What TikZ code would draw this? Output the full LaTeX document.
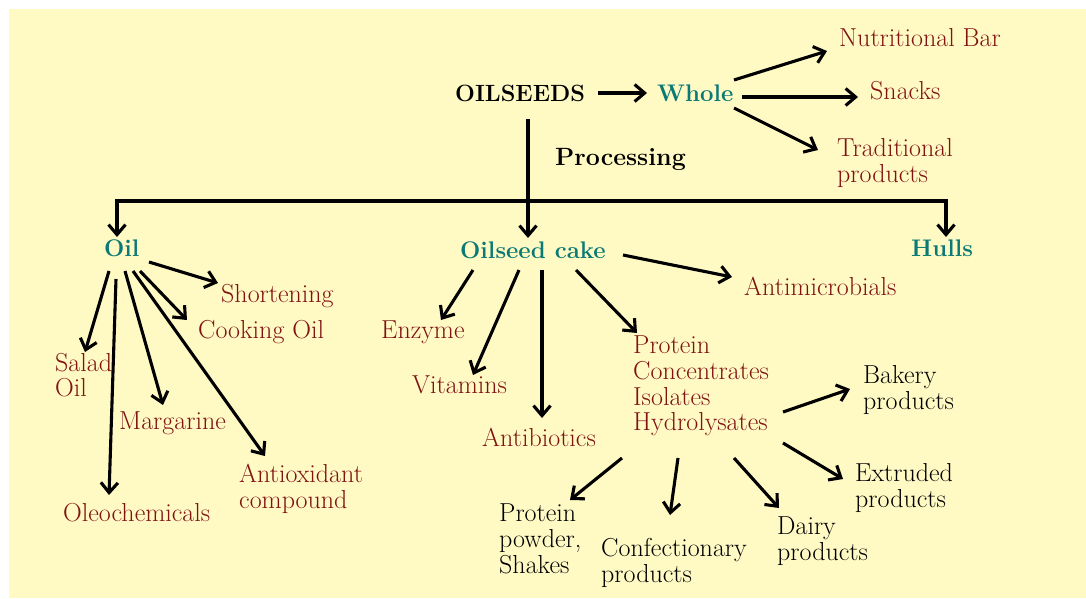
\documentclass[tikz,border=0pt]{standalone}
\usetikzlibrary{arrows.meta}
\definecolor{bgyellow}{RGB}{255,249,196}
\definecolor{txtred}{RGB}{128,18,18}
\definecolor{txtteal}{RGB}{10,122,118}
\tikzset{
  arr/.style={line width=3.1pt,-{Straight Barb[length=10pt,width=17pt]}},
  lbl/.style={anchor=west,inner sep=0pt,align=left,font=\rmfamily\fontsize{26}{25.7}\selectfont},
  redlbl/.style={lbl,text=txtred},
  blklbl/.style={lbl,text=black},
  teallbl/.style={lbl,text=txtteal,font=\rmfamily\fontsize{24}{26}\selectfont\bfseries},
  boldlbl/.style={lbl,text=black,font=\rmfamily\fontsize{24}{26}\selectfont\bfseries}
}
\begin{document}
\begin{tikzpicture}[x=1pt,y=-1pt]
\fill[white] (0,0) rectangle (1086,598);
\fill[bgyellow] (9,9) rectangle (1086,598);
\useasboundingbox (0,0) rectangle (1086,598);

% nodes
\node[boldlbl,font=\rmfamily\fontsize{23.5}{26}\selectfont\bfseries] (oilseeds) at (455,93) {OILSEEDS};
\node[teallbl] (whole) at (657,93) {Whole};
\node[redlbl] (nbar) at (839,38) {Nutritional Bar};
\node[redlbl] (snacks) at (870,91) {Snacks};
\node[redlbl] (trad) at (837,163) {Traditional\\products};
\node[boldlbl,font=\rmfamily\fontsize{25}{26}\selectfont\bfseries] (proc) at (555,159) {Processing};
\node[teallbl] (oil) at (104,248) {Oil};
\node[teallbl] (cake) at (460,250) {Oilseed cake};
\node[teallbl] (hulls) at (911,248) {Hulls};
\node[redlbl] (short) at (221,296) {Shortening};
\node[redlbl] (cook) at (198,332) {Cooking Oil};
\node[redlbl] (salad) at (55,375) {Salad\\Oil};
\node[redlbl] (oleo) at (63,513) {Oleochemicals};
\node[redlbl] (marg) at (119,423) {Margarine};
\node[redlbl] (anti) at (239,489) {Antioxidant\\compound};
\node[redlbl] (enz) at (381,332) {Enzyme};
\node[redlbl] (vit) at (412,385) {Vitamins};
\node[redlbl] (antib) at (482,437) {Antibiotics};
\node[redlbl] (antim) at (744,286) {Antimicrobials};
\node[redlbl] (prot) at (633,386) {Protein\\Concentrates\\Isolates\\Hydrolysates};
\node[blklbl] (bakery) at (863,390) {Bakery\\products};
\node[blklbl] (extr) at (855,488) {Extruded\\products};
\node[blklbl] (ppow) at (499,539) {Protein\\powder,\\Shakes};
\node[blklbl] (conf) at (601,563) {Confectionary\\products};
\node[blklbl] (dairy) at (777,541) {Dairy\\products};

% top
\draw[arr] ([shift={(143,0)}]oilseeds.west) -- ([shift={(-10,0)}]whole.west);
\draw[arr] ([shift={(73,26)}]oilseeds.west) -- ([shift={(68,-12)}]cake.west);
\draw[line width=3.1pt,{Straight Barb[length=10pt,width=17pt]}-{Straight Barb[length=10pt,width=17pt]}]
  ([shift={(13,-11)}]oil.west) -- ++(0,-36) -| ([shift={(35,-11)}]hulls.west);

% whole
\draw[arr] ([shift={(77,-13)}]whole.west) -- ([shift={(-12,13)}]nbar.west);
\draw[arr] ([shift={(85,4)}]whole.west) -- ([shift={(-12,6)}]snacks.west);
\draw[arr] ([shift={(77,15)}]whole.west) -- ([shift={(-19,-13)}]trad.west);

% oil
\draw[arr] ([shift={(45,14)}]oil.west) -- ([shift={(-3,-13)}]short.west);
\draw[arr] ([shift={(36,23)}]oil.west) -- ([shift={(-11,-12)}]cook.west);
\draw[arr] ([shift={(5,23)}]oil.west) -- ([shift={(30,-23)}]salad.west);
\draw[arr] ([shift={(12,31)}]oil.west) -- ([shift={(46,-18)}]oleo.west);
\draw[arr] ([shift={(21,23)}]oil.west) -- ([shift={(44,-18)}]marg.west);
\draw[arr] ([shift={(29,23)}]oil.west) -- ([shift={(26,-33)}]anti.west);

% cake
\draw[arr] ([shift={(13,20)}]cake.west) -- ([shift={(60,-12)}]enz.west);
\draw[arr] ([shift={(59,20)}]cake.west) -- ([shift={(61,-10)}]vit.west);
\draw[arr] ([shift={(82,20)}]cake.west) -- ([shift={(60,-19)}]antib.west);
\draw[arr] ([shift={(116,20)}]cake.west) -- ([shift={(4,-53)}]prot.west);
\draw[arr] ([shift={(163,5)}]cake.west) -- ([shift={(-12,-9)}]antim.west);

% protein
\draw[arr] ([shift={(150,26)}]prot.west) -- ([shift={(-13,-1)}]bakery.west);
\draw[arr] ([shift={(150,57)}]prot.west) -- ([shift={(-12,-9)}]extr.west);
\draw[arr] ([shift={(-11,72)}]prot.west) -- ([shift={(71,-39)}]ppow.west);
\draw[arr] ([shift={(45,72)}]prot.west) -- ([shift={(69,-48)}]conf.west);
\draw[arr] ([shift={(101,72)}]prot.west) -- ([shift={(2,-33)}]dairy.west);
\end{tikzpicture}
\end{document}
